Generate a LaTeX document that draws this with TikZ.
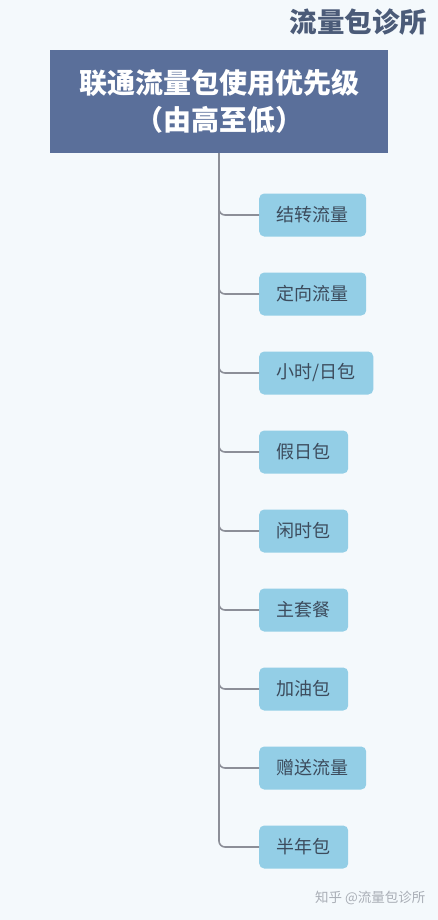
\documentclass[tikz,border=0pt]{standalone}
\usepackage{fontspec}
\setmainfont{Noto Sans CJK SC}
\usetikzlibrary{positioning}
\definecolor{bgpale}{HTML}{F4F9FC}
\definecolor{rootfill}{HTML}{5A6F9A}
\definecolor{itemfill}{HTML}{93CEE6}
\definecolor{itemtext}{HTML}{3C4B5C}
\definecolor{linkgray}{HTML}{8C8F98}
\definecolor{titlegray}{HTML}{4B5B78}
\definecolor{markgray}{HTML}{A9AEB6}
\begin{document}
\begin{tikzpicture}[
  x=1pt, y=1pt,
  rootbox/.style={fill=rootfill, text=white, font=\bfseries\fontsize{28}{37}\selectfont,
    minimum width=338pt, minimum height=103pt, align=center, inner sep=0pt},
  item/.style={fill=itemfill, text=itemtext, rounded corners=5pt, anchor=west,
    font=\fontsize{18}{20}\selectfont, minimum height=43pt, inner xsep=17.5pt, inner ysep=0pt},
  link/.style={draw=linkgray, line width=1.6pt, rounded corners=6pt}
]
% background
\fill[bgpale] (0,0) rectangle (438,-920);
\useasboundingbox (0,0) rectangle (438,-920);
% heading and root
\node[text=titlegray, font=\bfseries\fontsize{27.5}{29}\selectfont, anchor=east] (title) at (431,-22) {流量包诊所};
\node[rootbox] (root) at (219,-101.5) {联通流量包使用优先级\\（由高至低）};
% priority items
\node[item] (jz) at (259,-215) {结转流量};
\node[item] (dx) at (259,-294) {定向流量};
\node[item] (xs) at (259,-373) {小时/日包};
\node[item] (jr) at (259,-452) {假日包};
\node[item] (xian) at (259,-531) {闲时包};
\node[item] (ztc) at (259,-610) {主套餐};
\node[item] (jy) at (259,-689) {加油包};
\node[item] (zs) at (259,-768) {赠送流量};
\node[item] (bn) at (259,-847) {半年包};
% tree links
\draw[link] (root.south) |- (jz.west);
\draw[link] (root.south) |- (dx.west);
\draw[link] (root.south) |- (xs.west);
\draw[link] (root.south) |- (jr.west);
\draw[link] (root.south) |- (xian.west);
\draw[link] (root.south) |- (ztc.west);
\draw[link] (root.south) |- (jy.west);
\draw[link] (root.south) |- (zs.west);
\draw[link] (root.south) |- (bn.west);
% watermark
\node[text=markgray, font=\fontsize{13.5}{15}\selectfont, anchor=east] (mark) at (429,-898) {知乎 @流量包诊所};
\end{tikzpicture}
\end{document}
